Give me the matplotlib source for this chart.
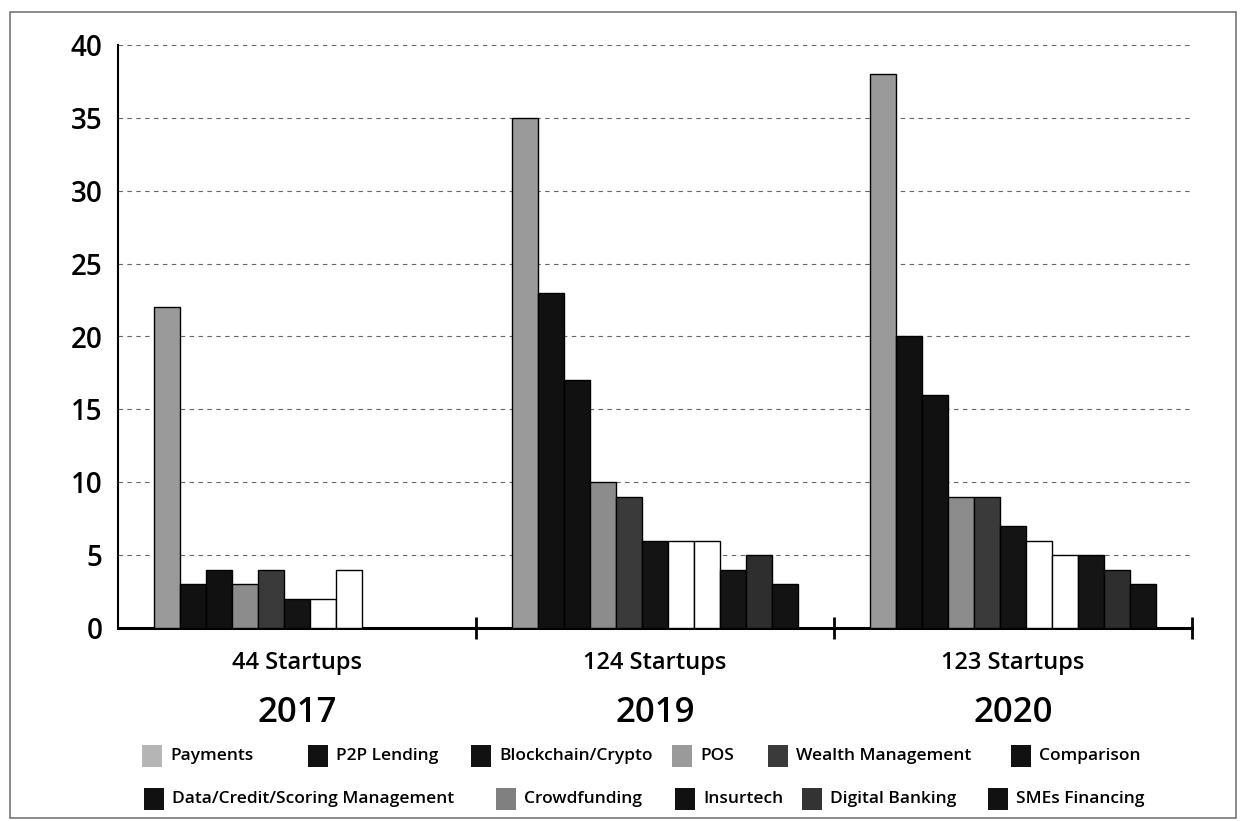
import matplotlib
matplotlib.use("Agg")
import matplotlib.pyplot as plt
import numpy as np
from matplotlib.patches import Rectangle
from matplotlib.transforms import blended_transform_factory

plt.rcParams["font.family"] = ["Open Sans", "DejaVu Sans"]

# ---- data -------------------------------------------------------------
YEARS = ["2017", "2019", "2020"]
STARTUPS = ["44 Startups", "124 Startups", "123 Startups"]
CATEGORIES = [
    "Payments", "P2P Lending", "Blockchain/Crypto", "POS", "Wealth Management",
    "Comparison", "Data/Credit/Scoring Management", "Crowdfunding",
    "Insurtech", "Digital Banking", "SMEs Financing",
]
# counts per category, one list per year
COUNTS_2017 = [22, 3, 4, 3, 4, 2, 2, 4, 0, 0, 0]
COUNTS_2019 = [35, 23, 17, 10, 9, 6, 6, 6, 4, 5, 3]
COUNTS_2020 = [38, 20, 16, 9, 9, 7, 6, 5, 5, 4, 3]

# grey tones as they come out of the scanned original
BAR_COLORS = ["#9a9a9a", "#111111", "#111111", "#8c8c8c", "#3a3a3a",
              "#141414", "#ffffff", "#ffffff", "#151515", "#2e2e2e", "#131313"]
LEGEND_COLORS = ["#b5b5b5", "#111111", "#111111", "#9a9a9a", "#3a3a3a",
                 "#111111", "#111111", "#808080", "#111111", "#333333", "#111111"]

W, H = 1240, 821
fig = plt.figure(figsize=(W / 100, H / 100), dpi=100)
ax = fig.add_axes([118 / W, 1 - 628 / H, (1192 - 118) / W, (628 - 45) / H])

counts = np.array([COUNTS_2017, COUNTS_2019, COUNTS_2020])
n_cat = len(CATEGORIES)
group_x = np.arange(len(YEARS))
bar_w = 0.8 / n_cat
for i in range(n_cat):
    xs = group_x - 0.4 + bar_w * (i + 0.5)
    vals = counts[:, i]
    ax.bar(xs, vals, width=bar_w, color=BAR_COLORS[i], edgecolor="black",
           linewidth=1.0, zorder=3)

ax.set_xlim(-0.5, 2.5)
ax.set_ylim(0, 40)
ax.set_yticks(np.arange(0, 41, 5))
ax.tick_params(axis="y", length=0, pad=11, labelsize=20)
for lab in ax.get_yticklabels():
    lab.set_fontweight("semibold")
ax.yaxis.grid(True, linestyle=(0, (4, 4)), color="#666666", linewidth=0.8)
ax.set_axisbelow(True)

# group separators on the x axis
ax.set_xticks([0.5, 1.5, 2.5])
ax.set_xticklabels([])
ax.tick_params(axis="x", direction="inout", length=16, width=2, color="black")

for side in ["top", "right"]:
    ax.spines[side].set_visible(False)
ax.spines["left"].set_linewidth(1.5)
ax.spines["bottom"].set_linewidth(2.2)

trans = blended_transform_factory(ax.transData, fig.transFigure)
for gx, st, yr in zip(group_x, STARTUPS, YEARS):
    ax.text(gx, 1 - 663 / H, st, transform=trans, ha="center", va="center",
            fontsize=17, fontweight="semibold")
    ax.text(gx, 1 - 713 / H, yr, transform=trans, ha="center", va="center",
            fontsize=25, fontweight="semibold")

# legend drawn by hand: two ragged rows like the original
LEGEND_X = [142, 308, 471, 672, 768, 1011, 144, 496, 675, 802, 988]
ROW_OF = [0, 0, 0, 0, 0, 0, 1, 1, 1, 1, 1]
ROW_Y = [756, 799]
for lbl, col, lx, r in zip(CATEGORIES, LEGEND_COLORS, LEGEND_X, ROW_OF):
    cy = ROW_Y[r]
    fig.patches.append(Rectangle((lx / W, 1 - (cy + 11) / H), 20 / W, 22 / H,
                                 transform=fig.transFigure, facecolor=col,
                                 edgecolor="none"))
    fig.text((lx + 28) / W, 1 - cy / H, lbl, ha="left", va="center",
             fontsize=12.5, fontweight="semibold")

# thin frame of the scanned page
fig.patches.append(Rectangle((10 / W, 1 - 818 / H), 1226 / W, 806 / H,
                             transform=fig.transFigure, facecolor="none",
                             edgecolor="#777777", linewidth=1.2))

fig.savefig("out.png", dpi=100)
